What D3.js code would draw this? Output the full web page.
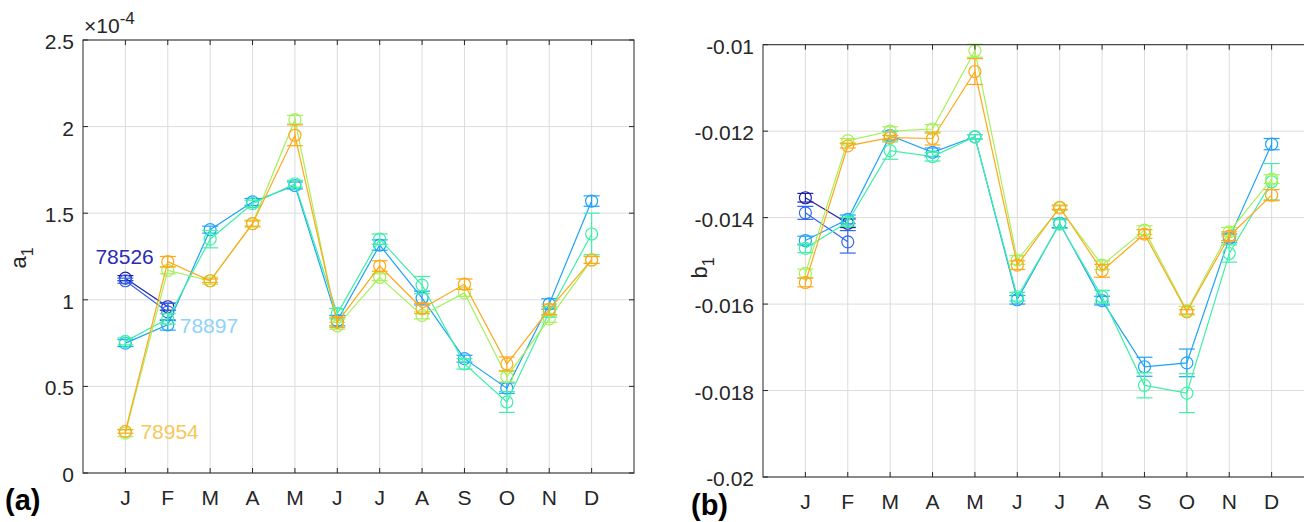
<!DOCTYPE html>
<html>
<head>
<meta charset="utf-8">
<title>a1 b1 monthly</title>
<script src="https://cdn.jsdelivr.net/npm/d3@7"></script>
<style>
  body { margin: 0; background: #fff; }
  svg text { font-family: "Liberation Sans", Arial, sans-serif; fill: #262626; }
  .grid line { stroke: #dcdcdc; stroke-width: 1; }
  .box { fill: none; stroke: #262626; stroke-width: 1; }
  .tick-lbl { font-size: 21px; }
</style>
</head>
<body>
<svg id="fig" width="1304" height="522"></svg>
<script>
// months on the x axis
var months = ["J","F","M","A","M","J","J","A","S","O","N","D"];

// series colours (first two only have J,F)
var colors = ["#1f1fa8", "#3366ee", "#1ea2f8", "#3ef0a8", "#a6f05a", "#ffa81a"];

// a1 values, units of 1e-4
var a1_s1 = [1.125, 0.96];
var a1_s1_err = [0.015, 0.02];
var a1_s2 = [1.11, 0.93];
var a1_s2_err = [0.015, 0.05];
var a1_s3 = [0.75, 0.855, 1.405, 1.565, 1.66, 0.88, 1.316, 1.01, 0.66, 0.49, 0.976, 1.57];
var a1_s3_err = [0.02, 0.03, 0.02, 0.02, 0.02, 0.03, 0.03, 0.04, 0.02, 0.03, 0.03, 0.03];
var a1_s4 = [0.76, 0.89, 1.35, 1.555, 1.67, 0.92, 1.35, 1.085, 0.63, 0.41, 0.93, 1.38];
var a1_s4_err = [0.02, 0.03, 0.05, 0.02, 0.02, 0.03, 0.03, 0.05, 0.03, 0.06, 0.03, 0.12];
var a1_s5 = [0.23, 1.17, 1.11, 1.44, 2.04, 0.85, 1.13, 0.91, 1.04, 0.556, 0.89, 1.23];
var a1_s5_err = [0.02, 0.02, 0.02, 0.02, 0.025, 0.02, 0.02, 0.02, 0.02, 0.03, 0.02, 0.02];
var a1_s6 = [0.24, 1.22, 1.11, 1.44, 1.95, 0.87, 1.195, 0.95, 1.09, 0.63, 0.945, 1.23];
var a1_s6_err = [0.01, 0.03, 0.01, 0.015, 0.06, 0.03, 0.03, 0.03, 0.03, 0.04, 0.03, 0.02];

// b1 values
var b1_s1 = [-0.01354, -0.01413];
var b1_s1_err = [0.0001, 0.0001];
var b1_s2 = [-0.01389, -0.01456];
var b1_s2_err = [0.00015, 0.00026];
var b1_s3 = [-0.01453, -0.01404, -0.0121, -0.01249, -0.01213, -0.0159, -0.01413, -0.01592, -0.01745, -0.01736, -0.01448, -0.0123];
var b1_s3_err = [0.0001, 0.0001, 0.0001, 0.0001, 0.00005, 0.0001, 0.0001, 0.0001, 0.00022, 0.00032, 0.0001, 0.00013];
var b1_s4 = [-0.01471, -0.0141, -0.01245, -0.01259, -0.01213, -0.01583, -0.01415, -0.01583, -0.01788, -0.01806, -0.01483, -0.01317];
var b1_s4_err = [0.0001, 0.0001, 0.0002, 0.0001, 0.00005, 0.0001, 0.0001, 0.00015, 0.00029, 0.00045, 0.0002, 0.00042];
var b1_s5 = [-0.01529, -0.01222, -0.012, -0.01195, -0.01014, -0.01498, -0.01378, -0.0151, -0.01429, -0.01615, -0.01433, -0.01311];
var b1_s5_err = [0.0001, 0.00005, 0.0001, 0.0001, 0.00015, 0.0001, 0.00005, 0.0001, 0.0001, 0.0001, 0.0001, 0.0001];
var b1_s6 = [-0.0155, -0.01234, -0.01215, -0.01217, -0.01062, -0.0151, -0.01376, -0.01523, -0.01438, -0.01618, -0.01443, -0.01348];
var b1_s6_err = [0.0001, 0.00005, 0.00005, 0.00015, 0.0003, 0.0001, 0.00005, 0.00015, 0.0001, 0.00005, 0.0001, 0.00013];

// tick labels
var a1Ticks = [0, 0.5, 1, 1.5, 2, 2.5];
var a1TickLabels = ["0", "0.5", "1", "1.5", "2", "2.5"];
var b1Ticks = [-0.02, -0.018, -0.016, -0.014, -0.012, -0.01];
var b1TickLabels = ["-0.02", "-0.018", "-0.016", "-0.014", "-0.012", "-0.01"];

var svg = d3.select("#fig");

function drawPanel(opt) {
  var x = d3.scaleLinear().domain([0, 13]).range([opt.left, opt.right]);
  var y = d3.scaleLinear().domain(opt.ydom).range([opt.bottom, opt.top]);
  var g = svg.append("g");

  // grid
  var grid = g.append("g").attr("class", "grid");
  grid.selectAll(".gx").data(months).enter().append("line")
    .attr("x1", function(d, i) { return x(i + 1); })
    .attr("x2", function(d, i) { return x(i + 1); })
    .attr("y1", opt.top).attr("y2", opt.bottom);
  grid.selectAll(".gy").data(opt.ticks).enter().append("line")
    .attr("x1", opt.left).attr("x2", opt.right)
    .attr("y1", function(d) { return y(d); })
    .attr("y2", function(d) { return y(d); });

  // data
  opt.series.forEach(function(s, k) {
    var pts = s.v.map(function(v, i) { return { m: i + 1, v: v, e: s.e[i] }; });
    var sg = g.append("g").attr("stroke", colors[k]).attr("fill", "none").attr("stroke-width", 1.2);
    sg.append("path")
      .attr("d", d3.line().x(function(d) { return x(d.m); }).y(function(d) { return y(d.v); })(pts));
    var eb = sg.selectAll(".eb").data(pts).enter().append("g");
    eb.append("line")
      .attr("x1", function(d) { return x(d.m); }).attr("x2", function(d) { return x(d.m); })
      .attr("y1", function(d) { return y(d.v - d.e); }).attr("y2", function(d) { return y(d.v + d.e); });
    [-1, 1].forEach(function(sgn) {
      eb.append("line")
        .attr("x1", function(d) { return x(d.m) - 8; }).attr("x2", function(d) { return x(d.m) + 8; })
        .attr("y1", function(d) { return y(d.v + sgn * d.e); })
        .attr("y2", function(d) { return y(d.v + sgn * d.e); });
    });
    eb.append("circle")
      .attr("cx", function(d) { return x(d.m); })
      .attr("cy", function(d) { return y(d.v); })
      .attr("r", 6);
  });

  // box + inner ticks
  g.append("rect").attr("class", "box")
    .attr("x", opt.left).attr("y", opt.top)
    .attr("width", opt.right - opt.left).attr("height", opt.bottom - opt.top);
  var tk = g.append("g").attr("stroke", "#262626");
  months.forEach(function(m, i) {
    tk.append("line").attr("x1", x(i + 1)).attr("x2", x(i + 1)).attr("y1", opt.bottom).attr("y2", opt.bottom - 5);
    tk.append("line").attr("x1", x(i + 1)).attr("x2", x(i + 1)).attr("y1", opt.top).attr("y2", opt.top + 5);
  });
  opt.ticks.forEach(function(t) {
    tk.append("line").attr("x1", opt.left).attr("x2", opt.left + 5).attr("y1", y(t)).attr("y2", y(t));
    tk.append("line").attr("x1", opt.right).attr("x2", opt.right - 5).attr("y1", y(t)).attr("y2", y(t));
  });

  // tick labels
  g.selectAll(".xl").data(months).enter().append("text")
    .attr("class", "tick-lbl")
    .attr("x", function(d, i) { return x(i + 1); })
    .attr("y", opt.bottom + 32)
    .attr("text-anchor", "middle")
    .text(function(d) { return d; });
  g.selectAll(".yl").data(opt.ticks).enter().append("text")
    .attr("class", "tick-lbl")
    .attr("x", opt.left - 9)
    .attr("y", function(d) { return y(d) + 9; })
    .attr("text-anchor", "end")
    .text(function(d, i) { return opt.tickLabels[i]; });

  // y label
  var yl = g.append("text")
    .attr("transform", "translate(" + opt.ylabX + "," + opt.ylabY + ") rotate(-90)")
    .attr("text-anchor", "middle")
    .style("font-size", "22px");
  yl.append("tspan").text(opt.ylab);
  yl.append("tspan").attr("dy", 7).style("font-size", "16px").text("1");

  // panel letter
  g.append("text").attr("x", opt.letterX).attr("y", opt.letterY)
    .style("font-size", "29px").style("font-weight", "bold")
    .style("fill", "#000")
    .text(opt.letter);

  return { x: x, y: y, g: g };
}

var pa = drawPanel({
  left: 83, right: 634, top: 40, bottom: 473,
  ydom: [0, 2.5], ticks: a1Ticks, tickLabels: a1TickLabels,
  series: [
    { v: a1_s1, e: a1_s1_err }, { v: a1_s2, e: a1_s2_err }, { v: a1_s3, e: a1_s3_err },
    { v: a1_s4, e: a1_s4_err }, { v: a1_s5, e: a1_s5_err }, { v: a1_s6, e: a1_s6_err }
  ],
  ylab: "a", ylabX: 26, ylabY: 258,
  letter: "(a)", letterX: 5, letterY: 510
});

// exponent
var ex = svg.append("text").attr("x", 84).attr("y", 33).style("font-size", "21px");
ex.append("tspan").text("\u00d710");
ex.append("tspan").attr("dy", -9).style("font-size", "17px").text("-4");

// station labels
pa.g.append("text").attr("x", pa.x(1) - 30).attr("y", pa.y(1.125) - 14)
  .style("font-size", "21px").style("fill", "#2b2bb3").text("78526");
pa.g.append("text").attr("x", pa.x(2) + 12).attr("y", pa.y(0.855) + 8)
  .style("font-size", "21px").style("fill", "#8fd3fa").text("78897");
pa.g.append("text").attr("x", pa.x(1) + 15).attr("y", pa.y(0.24) + 8)
  .style("font-size", "21px").style("fill", "#f5c85a").text("78954");

drawPanel({
  left: 763, right: 1314, top: 44.7, bottom: 477,
  ydom: [-0.02, -0.01], ticks: b1Ticks, tickLabels: b1TickLabels,
  series: [
    { v: b1_s1, e: b1_s1_err }, { v: b1_s2, e: b1_s2_err }, { v: b1_s3, e: b1_s3_err },
    { v: b1_s4, e: b1_s4_err }, { v: b1_s5, e: b1_s5_err }, { v: b1_s6, e: b1_s6_err }
  ],
  ylab: "b", ylabX: 707, ylabY: 268,
  letter: "(b)", letterX: 691, letterY: 515
});
</script>
</body>
</html>
